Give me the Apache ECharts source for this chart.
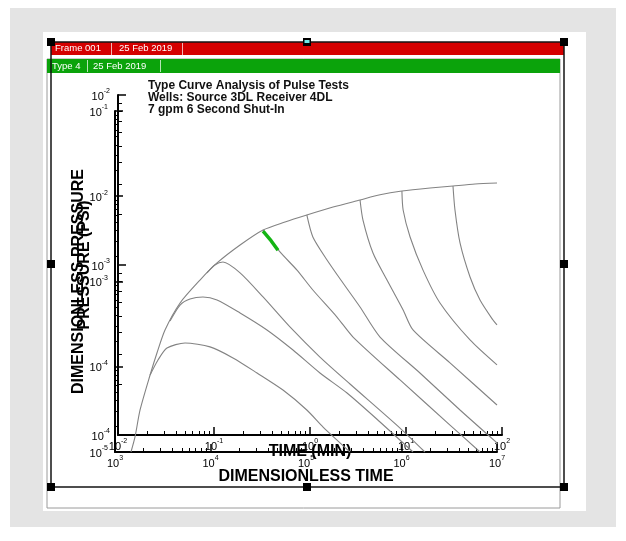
<!DOCTYPE html>
<html><head><meta charset="utf-8">
<script src="https://cdn.jsdelivr.net/npm/echarts@6/dist/echarts.min.js"></script>
<style>html,body{margin:0;padding:0;background:#fff}#c{width:626px;height:541px}</style>
</head><body><div id="c"></div>
<script>
const FONT = "'Liberation Sans', Arial, Helvetica, sans-serif";

// Frame 1 (field data): TIME (MIN) vs PRESSURE (PSI), decade exponents
const timeMinDecades = [-2, 2];
const psiDecades = [-4, -2];
// Frame 2 (type curves): DIMENSIONLESS TIME vs DIMENSIONLESS PRESSURE
const tDDecades = [3, 7];
const pDDecades = [-5, -1];

// Field data (time min, psi) - green segment
const fieldData = [[0.324, 1.58e-3], [0.393, 1.39e-3], [0.464, 1.22e-3]];

// Type curve envelope (tD, pD)
const envelope = [[1470,1.0e-5],[1620,1.50e-5],[1830,3.11e-5],[2330,8.0e-5],[2750,1.45e-4],[3340,2.70e-4],[4800,5.60e-4],[7760,1.04e-3],[11700,1.65e-3],[20400,2.68e-3],[35500,4.02e-3],[60300,4.99e-3],[102000,6.03e-3],[192000,7.48e-3],[368000,9.04e-3],[596000,1.04e-2],[1.01e6,1.15e-2],[1.99e6,1.25e-2],[3.46e6,1.32e-2],[5.89e6,1.39e-2],[1.0e7,1.43e-2]];
// Pulse branches (tD, pD)
const branch1 = [[2330,8.0e-5],[2820,1.20e-4],[3500,1.66e-4],[5410,1.90e-4],[9880,1.71e-4],[17200,1.27e-4],[30700,8.45e-5],[57400,5.33e-5],[102000,3.11e-5],[151000,1.96e-5],[227000,1.28e-5],[289000,1.0e-5]];
const branch2 = [[3770,3.44e-4],[4800,5.30e-4],[6100,6.23e-4],[8340,6.58e-4],[11700,6.07e-4],[20400,4.27e-4],[39000,2.70e-4],[73100,1.57e-4],[140000,8.45e-5],[269000,4.92e-5],[596000,2.25e-5],[1.32e6,1.0e-5]];
const branch3 = [[9180,1.26e-3],[11100,1.56e-3],[13500,1.69e-3],[20400,1.26e-3],[35500,6.58e-4],[67900,2.93e-4],[140000,1.30e-4],[289000,6.28e-5],[965000,1.91e-5],[1.76e6,1.0e-5]];
const branch4 = [[35500,4.02e-3],[53400,2.22e-3],[80500,1.36e-3],[118000,7.95e-4],[211000,3.83e-4],[311000,2.23e-4],[965000,7.00e-5],[3.22e6,2.07e-5],[6.64e6,1.0e-5]];
const branch5 = [[102000,6.03e-3],[118000,3.33e-3],[166000,1.79e-3],[244000,9.60e-4],[368000,5.02e-4],[596000,2.23e-4],[1.56e6,8.45e-5],[4.10e6,3.11e-5],[1.0e7,1.28e-5]];
const branch6 = [[368000,9.04e-3],[395000,5.26e-3],[503000,2.16e-3],[705000,1.04e-3],[1.04e6,4.63e-4],[1.32e6,2.70e-4],[3.22e6,1.11e-4],[1.0e7,3.56e-5]];
const branch7 = [[1.01e6,1.15e-2],[1.04e6,6.90e-3],[1.23e6,3.33e-3],[1.68e6,1.36e-3],[2.53e6,5.60e-4],[5.22e6,2.06e-4],[1.0e7,1.05e-4]];
const branch8 = [[3.46e6,1.32e-2],[3.63e6,6.90e-3],[4.10e6,2.83e-3],[5.22e6,1.13e-3],[6.64e6,6.07e-4],[9.08e6,3.53e-4],[1.0e7,3.09e-4]];

const titleLines = ['Type Curve Analysis of Pulse Tests', 'Wells: Source 3DL Receiver 4DL', '7 gpm 6 Second Shut-In'];

function minorLogs(d) {
  const out = [];
  for (let e = d[0]; e < d[1]; e++) for (let k = 2; k <= 9; k++) out.push(e + Math.log10(k));
  return out;
}
function decadeLabel(v) {
  const e = Math.round(Math.log10(v));
  return '{b|10}{s|' + e + '}';
}
const rich = {
  b: {fontSize: 11, fontFamily: FONT, color: '#000', lineHeight: 14, verticalAlign: 'bottom'},
  s: {fontSize: 7, fontFamily: FONT, color: '#000', lineHeight: 4, verticalAlign: 'top'}
};
const axisLineStyle = {show: true, onZero: false, lineStyle: {color: '#000', width: 2}};
const nameStyle = {fontFamily: FONT, fontSize: 16, fontWeight: 'bold', color: '#000'};

function mainAxis(grid, dec, pos, margin, name, gap) {
  return {
    gridIndex: grid, type: 'log', logBase: 10, min: Math.pow(10, dec[0]), max: Math.pow(10, dec[1]),
    position: pos, axisLine: axisLineStyle,
    axisTick: {show: true, inside: true, length: 8, lineStyle: {color: '#000', width: 1.5}},
    minorTick: {show: false}, splitLine: {show: false},
    axisLabel: {show: true, interval: 0, margin: margin, formatter: decadeLabel, rich: rich,
                showMinLabel: true, showMaxLabel: true, hideOverlap: false},
    name: name, nameLocation: 'middle', nameGap: gap, nameMoveOverlap: false, nameTextStyle: nameStyle
  };
}
function minorAxis(grid, dec, pos) {
  return {
    gridIndex: grid, type: 'value', min: dec[0], max: dec[1], position: pos,
    axisLine: {show: false, onZero: false}, splitLine: {show: false}, axisLabel: {show: false},
    axisTick: {show: true, inside: true, length: 4, customValues: minorLogs(dec), lineStyle: {color: '#000', width: 1}}
  };
}
function curve(data) {
  return {type: 'line', xAxisIndex: 1, yAxisIndex: 1, data: data, showSymbol: false, symbol: 'none',
          smooth: 0.25, clip: true, lineStyle: {color: '#838383', width: 1.1}, z: 3, silent: true};
}

const graphics = [
  {type: 'rect', z: -20, shape: {x: 10, y: 8, width: 606, height: 519}, style: {fill: '#e4e4e4'}},
  {type: 'rect', z: -19, shape: {x: 43, y: 32, width: 543, height: 479}, style: {fill: '#ffffff'}},
  {type: 'rect', z: -18, shape: {x: 47, y: 59, width: 513, height: 449}, style: {fill: 'none', stroke: '#9a9a9a', lineWidth: 1}},
  {type: 'rect', z: 10, shape: {x: 51, y: 42, width: 513, height: 13}, style: {fill: '#d50000'}},
  {type: 'rect', z: 10, shape: {x: 47, y: 59, width: 513, height: 14}, style: {fill: '#0ba30b'}},
  {type: 'text', z: 11, style: {text: 'Frame 001', x: 55, y: 48.5, fill: '#fff', fontSize: 9.5, fontFamily: FONT, verticalAlign: 'middle'}},
  {type: 'text', z: 11, style: {text: '25 Feb 2019', x: 119, y: 48.5, fill: '#fff', fontSize: 9.5, fontFamily: FONT, verticalAlign: 'middle'}},
  {type: 'line', z: 11, shape: {x1: 111.5, y1: 43, x2: 111.5, y2: 55}, style: {stroke: 'rgba(255,255,255,0.7)', lineWidth: 1}},
  {type: 'line', z: 11, shape: {x1: 182.5, y1: 43, x2: 182.5, y2: 55}, style: {stroke: 'rgba(255,255,255,0.7)', lineWidth: 1}},
  {type: 'text', z: 11, style: {text: 'Type 4', x: 52, y: 66, fill: '#fff', fontSize: 9.5, fontFamily: FONT, verticalAlign: 'middle'}},
  {type: 'text', z: 11, style: {text: '25 Feb 2019', x: 93, y: 66, fill: '#fff', fontSize: 9.5, fontFamily: FONT, verticalAlign: 'middle'}},
  {type: 'line', z: 11, shape: {x1: 87.5, y1: 60, x2: 87.5, y2: 72}, style: {stroke: 'rgba(255,255,255,0.7)', lineWidth: 1}},
  {type: 'line', z: 11, shape: {x1: 160.5, y1: 60, x2: 160.5, y2: 72}, style: {stroke: 'rgba(255,255,255,0.7)', lineWidth: 1}},
  {type: 'rect', z: 12, shape: {x: 51, y: 42, width: 513, height: 445}, style: {fill: 'none', stroke: '#151515', lineWidth: 1.5}},
  {type: 'text', z: 12, style: {text: titleLines.join('\n'), x: 148, y: 80, fill: '#111', fontSize: 12, fontWeight: 'bold', lineHeight: 12, fontFamily: FONT, verticalAlign: 'top'}}
];
[[51,42],[307,42],[564,42],[51,264],[564,264],[51,487],[307,487],[564,487]].forEach(function (p, i) {
  graphics.push({type: 'rect', z: 13, shape: {x: p[0] - 4, y: p[1] - 4, width: 8, height: 8}, style: {fill: '#000'}});
  if (i === 1) graphics.push({type: 'rect', z: 14, shape: {x: p[0] - 2.5, y: p[1] - 2, width: 5, height: 3}, style: {fill: '#6ee8e8'}});
});

const option = {
  animation: false,
  backgroundColor: '#ffffff',
  grid: [
    {left: 118, top: 95, width: 384, height: 340, containLabel: false},
    {left: 115, top: 111, width: 382, height: 341, containLabel: false}
  ],
  xAxis: [
    mainAxis(0, timeMinDecades, 'bottom', 3, 'TIME (MIN)', 9),
    mainAxis(1, tDDecades, 'bottom', 3, 'DIMENSIONLESS TIME', 17),
    minorAxis(0, timeMinDecades, 'bottom'),
    minorAxis(1, tDDecades, 'bottom')
  ],
  yAxis: [
    Object.assign(mainAxis(0, psiDecades, 'left', 8, 'PRESSURE (PSI)', 25), {nameRotate: 90}),
    Object.assign(mainAxis(1, pDDecades, 'left', 7, 'DIMENSIONLESS PRESSURE', 28), {nameRotate: 90}),
    minorAxis(0, psiDecades, 'left'),
    minorAxis(1, pDDecades, 'left')
  ],
  graphic: {elements: graphics},
  series: [
    curve(envelope), curve(branch1), curve(branch2), curve(branch3), curve(branch4),
    curve(branch5), curve(branch6), curve(branch7), curve(branch8),
    {type: 'line', xAxisIndex: 0, yAxisIndex: 0, data: fieldData, showSymbol: false, symbol: 'none',
     lineStyle: {color: '#14b414', width: 3.5}, z: 5, silent: true}
  ]
};
const chart = echarts.init(document.getElementById('c'), null, {renderer: 'canvas'});
chart.setOption(option);
</script>
</body></html>
